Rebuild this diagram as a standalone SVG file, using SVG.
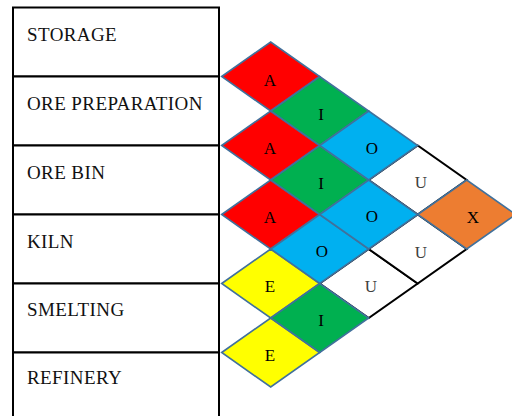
<svg xmlns="http://www.w3.org/2000/svg" width="512" height="416" viewBox="0 0 512 416">
  <style>
    .dept rect { fill: #ffffff; stroke: #000000; stroke-width: 2; }
    .dept text { font-family: "Liberation Serif", "Times New Roman", serif; font-size: 19px; letter-spacing: 0.4px; fill: #111111; }
    .cell polygon { stroke: #41719C; stroke-width: 1.6; stroke-linejoin: miter; }
    .cell text { font-family: "Liberation Serif", "Times New Roman", serif; font-size: 17px; text-anchor: middle; fill: #000000; }
    .cell.u polygon { fill: #ffffff; stroke: #000000; stroke-width: 2; }
    .cell.u text { fill: #404040; }
    .a polygon { fill: #FF0000; }
    .i polygon { fill: #00B050; }
    .o polygon { fill: #00B0F0; }
    .e polygon { fill: #FFFF00; }
    .x polygon { fill: #ED7D31; }
  </style>

  <!-- department list -->
  <g id="dept-storage" class="dept">
    <rect x="13" y="7.5" width="206" height="69"/>
    <text x="27" y="40.5">STORAGE</text>
  </g>
  <g id="dept-ore-preparation" class="dept">
    <rect x="13" y="76.5" width="206" height="69"/>
    <text x="27" y="110">ORE PREPARATION</text>
  </g>
  <g id="dept-ore-bin" class="dept">
    <rect x="13" y="145.5" width="206" height="69"/>
    <text x="27" y="179">ORE BIN</text>
  </g>
  <g id="dept-kiln" class="dept">
    <rect x="13" y="214.5" width="206" height="69"/>
    <text x="27" y="247.5">KILN</text>
  </g>
  <g id="dept-smelting" class="dept">
    <rect x="13" y="283.5" width="206" height="69"/>
    <text x="27" y="316">SMELTING</text>
  </g>
  <g id="dept-refinery" class="dept">
    <rect x="13" y="352.5" width="206" height="70"/>
    <text x="27" y="384">REFINERY</text>
  </g>

  <!-- relationship cells: white (U) cells first, coloured cells drawn over shared edges -->
  <g id="rel-storage-kiln" class="cell u">
    <polygon points="368.7,180 417.7,145.5 466.7,180 417.7,214.5"/>
    <text x="421" y="188">U</text>
  </g>
  <g id="rel-orebin-refinery" class="cell u">
    <polygon points="319.7,283.5 368.7,249 417.7,283.5 368.7,318"/>
    <text x="371" y="292">U</text>
  </g>
  <g id="rel-prep-refinery" class="cell u">
    <polygon points="368.7,249 417.7,214.5 466.7,249 417.7,283.5"/>
    <text x="421" y="257.5">U</text>
  </g>

  <g id="rel-storage-prep" class="cell a">
    <polygon points="221.7,76.5 270.7,42 319.7,76.5 270.7,111"/>
    <text x="270" y="86">A</text>
  </g>
  <g id="rel-prep-orebin" class="cell a">
    <polygon points="221.7,145.5 270.7,111 319.7,145.5 270.7,180"/>
    <text x="270" y="154">A</text>
  </g>
  <g id="rel-orebin-kiln" class="cell a">
    <polygon points="221.7,214.5 270.7,180 319.7,214.5 270.7,249"/>
    <text x="270" y="223">A</text>
  </g>
  <g id="rel-kiln-smelting" class="cell e">
    <polygon points="221.7,283.5 270.7,249 319.7,283.5 270.7,318"/>
    <text x="270" y="292">E</text>
  </g>
  <g id="rel-smelting-refinery" class="cell e">
    <polygon points="221.7,352.5 270.7,318 319.7,352.5 270.7,387"/>
    <text x="270" y="361">E</text>
  </g>

  <g id="rel-storage-orebin" class="cell i">
    <polygon points="270.7,111 319.7,76.5 368.7,111 319.7,145.5"/>
    <text x="321" y="119.5">I</text>
  </g>
  <g id="rel-prep-kiln" class="cell i">
    <polygon points="270.7,180 319.7,145.5 368.7,180 319.7,214.5"/>
    <text x="321" y="188.5">I</text>
  </g>
  <g id="rel-orebin-smelting" class="cell o">
    <polygon points="270.7,249 319.7,214.5 368.7,249 319.7,283.5"/>
    <text x="322" y="257">O</text>
  </g>
  <g id="rel-kiln-refinery" class="cell i">
    <polygon points="270.7,318 319.7,283.5 368.7,318 319.7,352.5"/>
    <text x="321" y="326">I</text>
  </g>

  <g id="rel-storage-kiln-o" class="cell o">
    <polygon points="319.7,145.5 368.7,111 417.7,145.5 368.7,180"/>
    <text x="372" y="153.5">O</text>
  </g>
  <g id="rel-prep-smelting" class="cell o">
    <polygon points="319.7,214.5 368.7,180 417.7,214.5 368.7,249"/>
    <text x="372" y="222">O</text>
  </g>

  <g id="rel-storage-refinery" class="cell x">
    <polygon points="417.7,214.5 466.7,180 515.7,214.5 466.7,249"/>
    <text x="473" y="222.5">X</text>
  </g>
</svg>
